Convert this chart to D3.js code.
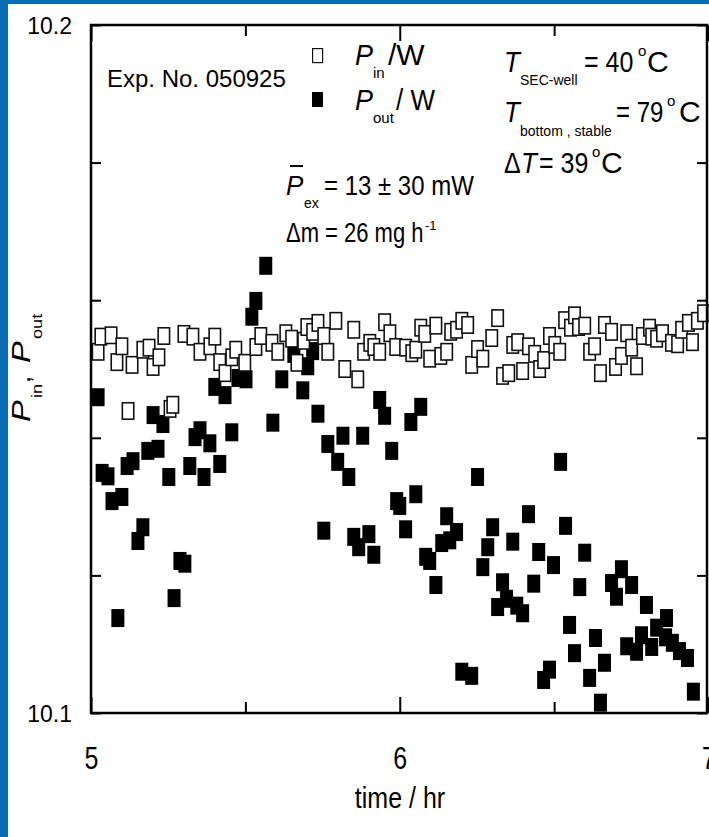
<!DOCTYPE html>
<html>
<head>
<meta charset="utf-8">
<script src="https://cdn.jsdelivr.net/npm/d3@7"></script>
<style>
  html, body { margin: 0; padding: 0; background: #0b6cb4; }
  svg { display: block; }
</style>
</head>
<body>
<svg id="chart" width="709" height="837"></svg>
<script>
// ---- data (time in hours, power in W) ----
const inTime = [5.023,5.032,5.065,5.084,5.100,5.120,5.133,5.168,5.188,5.201,5.220,5.236,5.256,5.265,5.301,5.330,5.353,5.385,5.401,5.417,5.434,5.456,5.469,5.498,5.534,5.550,5.586,5.605,5.631,5.650,5.667,5.689,5.699,5.718,5.735,5.754,5.767,5.793,5.822,5.851,5.864,5.883,5.903,5.916,5.935,5.951,5.968,5.987,6.019,6.039,6.052,6.068,6.081,6.097,6.117,6.133,6.152,6.165,6.184,6.201,6.220,6.233,6.252,6.269,6.298,6.317,6.333,6.353,6.366,6.382,6.398,6.417,6.437,6.453,6.466,6.485,6.502,6.518,6.534,6.553,6.566,6.579,6.599,6.615,6.631,6.650,6.663,6.686,6.699,6.718,6.735,6.751,6.767,6.786,6.809,6.816,6.832,6.851,6.880,6.900,6.913,6.935,6.948,6.964,6.984];
const inPower = [10.1525,10.1547,10.1549,10.1510,10.1533,10.1439,10.1506,10.1528,10.1531,10.1503,10.1517,10.1548,10.1442,10.1448,10.1551,10.1547,10.1525,10.1533,10.1547,10.1510,10.1494,10.1517,10.1528,10.1509,10.1532,10.1548,10.1538,10.1525,10.1552,10.1544,10.1509,10.1541,10.1561,10.1554,10.1567,10.1548,10.1525,10.1570,10.1500,10.1557,10.1485,10.1525,10.1538,10.1532,10.1525,10.1568,10.1552,10.1532,10.1531,10.1523,10.1528,10.1560,10.1551,10.1515,10.1563,10.1519,10.1525,10.1554,10.1557,10.1570,10.1564,10.1506,10.1529,10.1515,10.1545,10.1574,10.1490,10.1494,10.1535,10.1539,10.1497,10.1533,10.1522,10.1500,10.1513,10.1548,10.1535,10.1525,10.1571,10.1560,10.1578,10.1561,10.1563,10.1525,10.1533,10.1494,10.1564,10.1554,10.1503,10.1519,10.1552,10.1531,10.1504,10.1548,10.1560,10.1547,10.1544,10.1552,10.1538,10.1536,10.1557,10.1567,10.1539,10.1570,10.1581];

const outTime = [5.023,5.036,5.055,5.068,5.087,5.100,5.117,5.136,5.152,5.168,5.184,5.201,5.217,5.233,5.252,5.269,5.288,5.304,5.320,5.337,5.353,5.366,5.385,5.401,5.417,5.434,5.456,5.476,5.502,5.521,5.534,5.566,5.589,5.618,5.657,5.686,5.702,5.718,5.735,5.754,5.767,5.799,5.816,5.835,5.851,5.867,5.880,5.900,5.916,5.935,5.951,5.974,5.990,6.000,6.019,6.036,6.052,6.068,6.084,6.097,6.117,6.136,6.152,6.162,6.184,6.201,6.233,6.252,6.269,6.285,6.301,6.317,6.333,6.346,6.366,6.379,6.398,6.417,6.434,6.450,6.466,6.485,6.498,6.521,6.537,6.550,6.566,6.583,6.599,6.615,6.634,6.650,6.663,6.686,6.702,6.718,6.735,6.751,6.767,6.783,6.799,6.816,6.832,6.861,6.864,6.883,6.906,6.932,6.951];
const outPower = [10.1459,10.1349,10.1344,10.1308,10.1138,10.1314,10.1359,10.1366,10.1250,10.1270,10.1381,10.1433,10.1384,10.1420,10.1343,10.1167,10.1221,10.1217,10.1359,10.1401,10.1411,10.1343,10.1392,10.1474,10.1362,10.1462,10.1408,10.1487,10.1485,10.1576,10.1599,10.1650,10.1422,10.1485,10.1522,10.1469,10.1504,10.1526,10.1435,10.1265,10.1391,10.1365,10.1403,10.1343,10.1256,10.1241,10.1403,10.1260,10.1230,10.1455,10.1432,10.1381,10.1308,10.1301,10.1267,10.1423,10.1318,10.1445,10.1227,10.1221,10.1186,10.1247,10.1286,10.1251,10.1263,10.1060,10.1054,10.1343,10.1212,10.1241,10.1270,10.1154,10.1190,10.1166,10.1249,10.1156,10.1145,10.1289,10.1188,10.1234,10.1048,10.1063,10.1215,10.1365,10.1272,10.1128,10.1087,10.1183,10.1233,10.1051,10.1109,10.1015,10.1073,10.1189,10.1169,10.1209,10.1097,10.1186,10.1089,10.1113,10.1157,10.1096,10.1124,10.1110,10.1138,10.1102,10.1090,10.1080,10.1031];

const xDomain = [5, 7];
const yDomain = [10.1, 10.2];
const xMajorTicks = [5, 6, 7];
const xMinorTicks = [5.5, 6.5];
const yTicks = [10.1, 10.12, 10.14, 10.16, 10.18, 10.2];
const yLabelled = [10.1, 10.2];

const FONT = "'Liberation Sans', Arial, Helvetica, sans-serif";

// ---- layout ----
const svg = d3.select("#chart");
svg.append("rect").attr("x", 8).attr("y", 4).attr("width", 701).attr("height", 833).attr("fill", "#ffffff");

const plotLeft = 91, plotRight = 708.5, plotTop = 25, plotBottom = 713;
const x = d3.scaleLinear().domain(xDomain).range([plotLeft, plotRight]);
const y = d3.scaleLinear().domain(yDomain).range([plotBottom, plotTop]);

const isLabelled = d => yLabelled.some(v => Math.abs(v - d) < 1e-9);

function styleAxis(g, fs) {
  g.select(".domain").remove();
  g.selectAll(".tick line").attr("stroke", "#000").attr("stroke-width", 2);
  g.selectAll(".tick text").attr("fill", "#000").attr("font-family", FONT).attr("font-size", fs);
}

// left axis (labels only at the ends)
svg.append("g").attr("transform", `translate(${plotLeft},0)`)
  .call(d3.axisLeft(y).tickValues(yTicks).tickSize(-10).tickPadding(19)
    .tickFormat(d => isLabelled(d) ? d3.format(".1f")(d) : ""))
  .call(g => styleAxis(g, 23))
  .call(g => g.selectAll(".tick text").attr("dy", null).attr("y", 0)
    .attr("transform", "translate(0,8) scale(1,1.08)"));

// right axis ticks
svg.append("g").attr("transform", `translate(${plotRight - 1.5},0)`)
  .call(d3.axisRight(y).tickValues(yTicks).tickSize(-10).tickFormat(""))
  .call(g => styleAxis(g, 10));

// bottom axis: major ticks with labels, minor ticks without
svg.append("g").attr("transform", `translate(0,${plotBottom})`)
  .call(d3.axisBottom(x).tickValues(xMajorTicks).tickSize(-16)
    .tickFormat(d3.format("d")))
  .call(g => styleAxis(g, 25))
  .call(g => g.selectAll(".tick text").attr("dy", null).attr("y", 0)
    .attr("transform", "translate(0,56) scale(1,1.22)"));
svg.append("g").attr("transform", `translate(0,${plotBottom})`)
  .call(d3.axisBottom(x).tickValues(xMinorTicks).tickSize(-11).tickFormat(""))
  .call(g => styleAxis(g, 10));

// top axis ticks
svg.append("g").attr("transform", `translate(0,${plotTop})`)
  .call(d3.axisTop(x).tickValues(xMajorTicks).tickSize(-16).tickFormat(""))
  .call(g => styleAxis(g, 10));
svg.append("g").attr("transform", `translate(0,${plotTop})`)
  .call(d3.axisTop(x).tickValues(xMinorTicks).tickSize(-11).tickFormat(""))
  .call(g => styleAxis(g, 10));

// ---- markers ----
const MW = 13, MH = 18;
const outPts = outTime.map((t, i) => ({ t, v: outPower[i] }));
const inPts = inTime.map((t, i) => ({ t, v: inPower[i] }));

svg.append("g").selectAll("rect").data(outPts).join("rect")
  .attr("x", d => x(d.t) - MW / 2).attr("y", d => y(d.v) - MH / 2)
  .attr("width", MW).attr("height", MH).attr("fill", "#000");

svg.append("g").selectAll("rect").data(inPts).join("rect")
  .attr("x", d => x(d.t) - MW / 2 + 0.8).attr("y", d => y(d.v) - MH / 2 + 0.8)
  .attr("width", MW - 1.6).attr("height", MH - 1.6)
  .attr("fill", "#fff").attr("stroke", "#111").attr("stroke-width", 1.6);

// frame
svg.append("rect").attr("x", plotLeft).attr("y", plotTop)
  .attr("width", plotRight - 1.5 - plotLeft).attr("height", plotBottom - plotTop)
  .attr("fill", "none").attr("stroke", "#000").attr("stroke-width", 2.5);

// ---- text: each piece placed at its baseline, optionally stretched ----
function label(parent, o) {
  const sx = o.sx || 1, sy = o.sy || 1;
  const t = parent.append("text")
    .attr("transform", `translate(${o.x},${o.y}) scale(${sx},${sy})`)
    .attr("font-family", FONT).attr("font-size", o.size)
    .attr("text-anchor", o.anchor || "start")
    .attr("fill", "#000")
    .text(o.text);
  if (o.italic) t.attr("font-style", "italic");
  return t;
}
const place = (parent, pieces) => pieces.forEach(p => label(parent, p));

const ann = svg.append("g");
label(ann, { x: 107, y: 87, size: 24, text: "Exp. No. 050925" });

// legend
ann.append("rect").attr("x", 312.6).attr("y", 48.6).attr("width", 10).attr("height", 14)
  .attr("fill", "#fff").attr("stroke", "#111").attr("stroke-width", 1.2);
ann.append("rect").attr("x", 312).attr("y", 92).attr("width", 11).attr("height", 15).attr("fill", "#000");
place(ann, [
  { x: 355, y: 65, size: 27, sy: 1.11, text: "P", italic: true },
  { x: 373, y: 78, size: 15, text: "in" },
  { x: 388, y: 65, size: 30, text: "/W" }
]);
place(ann, [
  { x: 355, y: 110, size: 27, sy: 1.11, text: "P", italic: true },
  { x: 373, y: 123, size: 15, text: "out" },
  { x: 396, y: 110, size: 26, sy: 1.15, text: "/ W" }
]);

// temperatures
place(ann, [
  { x: 504, y: 72, size: 26, sy: 1.15, text: "T", italic: true },
  { x: 520, y: 85, size: 14, text: "SEC-well" },
  { x: 584, y: 72, size: 25, sy: 1.2, text: "= 40" },
  { x: 638, y: 56, size: 15, text: "o" },
  { x: 647, y: 72, size: 30, text: "C" }
]);
place(ann, [
  { x: 504, y: 122, size: 26, sy: 1.15, text: "T", italic: true },
  { x: 520, y: 136, size: 14, text: "bottom , stable" },
  { x: 616, y: 122, size: 24, sy: 1.25, text: "= 79" },
  { x: 667, y: 106, size: 15, text: "o" },
  { x: 679, y: 122, size: 30, text: "C" }
]);
place(ann, [
  { x: 504, y: 173, size: 25, sy: 1.2, text: "\u0394" },
  { x: 521, y: 173, size: 26, sy: 1.15, text: "T", italic: true },
  { x: 539, y: 173, size: 25, sy: 1.2, text: "= 39" },
  { x: 592, y: 157, size: 15, text: "o" },
  { x: 601, y: 173, size: 30, text: "C" }
]);

// excess power and mass-loss rate
place(ann, [
  { x: 286, y: 195, size: 26, sy: 1.08, text: "P", italic: true },
  { x: 304, y: 208, size: 14, text: "ex" },
  { x: 324, y: 195, size: 24, sy: 1.16, text: "= 13 \u00b1 30 mW" }
]);
ann.append("line").attr("x1", 290).attr("x2", 303).attr("y1", 166).attr("y2", 166)
  .attr("stroke", "#000").attr("stroke-width", 2);
place(ann, [
  { x: 286, y: 242, size: 22, sy: 1.27, text: "\u0394m = 26 mg h" },
  { x: 425, y: 230, size: 13, text: "-1" }
]);

// axis titles
label(svg, { x: 400, y: 808, size: 25, sy: 1.2, text: "time / hr", anchor: "middle" });

const yt = svg.append("g").attr("transform", "translate(30,0) rotate(-90)");
place(yt, [
  { x: -422, y: 0, size: 25, sx: 1.3, text: "P", italic: true },
  { x: -398, y: 12, size: 14, sx: 1.3, text: "in" },
  { x: -383, y: 0, size: 25, text: "," },
  { x: -363, y: 0, size: 25, sx: 1.3, text: "P", italic: true },
  { x: -339, y: 12, size: 14, sx: 1.3, text: "out" }
]);
</script>
</body>
</html>
